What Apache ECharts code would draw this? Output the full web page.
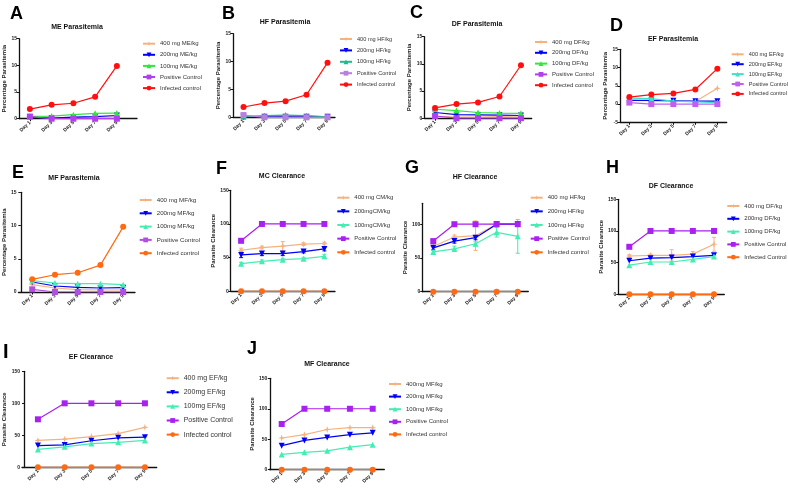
<!DOCTYPE html>
<html><head><meta charset="utf-8">
<script src="https://cdn.jsdelivr.net/npm/echarts@6/dist/echarts.min.js"></script>
<style>html,body{margin:0;padding:0;background:#fff}#c{width:788px;height:491px}</style>
</head><body><div id="c"></div>
<script>
// ---------- DATA ----------
const days = [1, 3, 5, 7, 9];
const dayLabels = ['Day 1', 'Day 3', 'Day 5', 'Day 7', 'Day 9'];
const parasitemiaTicks = [0, 5, 10, 15];
const parasitemiaTicksEF = [-5, 0, 5, 10, 15];
const clearanceTicks = [0, 50, 100, 150];
const clearanceTicksHF = [0, 50, 100];

// A  ME Parasitemia
const meNames = ['400 mg ME/kg', '200mg ME/kg', '100mg ME/kg', 'Positive Control', 'Infected control'];
const me400 = [0.3, 0.2, 0.2, 0.3, 0.3];
const me200 = [0.3, 0.1, 0.3, 0.4, 0.6];
const me100 = [0.45, 0.5, 0.75, 1.0, 1.05];
const mePos = [0.4, 0, 0, 0, 0];
const meInf = [1.8, 2.6, 2.9, 4.1, 9.9];
// B  HF Parasitemia
const hfNames = ['400 mg HF/kg', '200mg HF/kg', '100mg HF/kg', 'Positive Control', 'Infected control'];
const hf400 = [0.2, 0.2, 0.2, 0.2, 0.1];
const hf200 = [0.1, 0.1, 0.1, 0.1, 0.1];
const hf100 = [0.1, 0.3, 0.4, 0.3, 0.1];
const hfPos = [0.4, 0, 0, 0, 0];
const hfInf = [1.85, 2.55, 2.9, 4.05, 9.8];
// C  DF Parasitemia
const dfNames = ['400 mg DF/kg', '200mg DF/kg', '100mg DF/kg', 'Positive Control', 'Infected control'];
const df400 = [0.4, 0.2, 0.2, 0.3, 0.2];
const df200 = [1.05, 0.65, 0.6, 0.55, 0.5];
const df100 = [1.65, 1.4, 1.05, 0.95, 0.9];
const dfPos = [0.4, 0, 0, 0, 0];
const dfInf = [1.9, 2.6, 2.9, 4.0, 9.75];
// D  EF Parasitemia
const efNames = ['400 mg EF/kg', '200mg EF/kg', '100mg EF/kg', 'Positive Control', 'Infected control'];
const ef400 = [1.0, 0.9, 0.8, 0.7, 4.3];
const ef200 = [1.0, 1.0, 0.9, 0.8, 0.8];
const ef100 = [1.6, 1.5, 0.8, 0.6, 0.4];
const efPos = [0.4, 0, 0, 0, 0];
const efInf = [1.9, 2.6, 2.9, 4.0, 9.7];
// E  MF Parasitemia
const mfNames = ['400 mg MF/kg', '200mg MF/kg', '100mg MF/kg', 'Positive Control', 'Infected control'];
const mf400 = [1.1, 0.6, 0.35, 0.3, 0.3];
const mf200 = [1.5, 0.9, 0.7, 0.6, 0.65];
const mf100 = [1.7, 1.35, 1.25, 1.25, 1.1];
const mfPos = [0.4, 0, 0, 0, 0];
const mfInf = [1.9, 2.6, 2.9, 4.05, 9.8];
// F  MC Clearance
const mcNames = ['400 mg CM/kg', '200mgCM/kg', '100mgCM/kg', 'Positive Control', 'Infected control'];
const mc400 = [61, 65, 67, 70, 71];
const mc200 = [54, 56, 56, 59, 63];
const mc100 = [41, 44.5, 47, 48.5, 52];
const mcPos = [75, 100, 100, 100, 100];
const mcInf = [0, 0, 0, 0, 0];
const mc400Err = [3, 2, 7, 2, 2];
const mc200Err = [4, 3, 3, 2, 3];
const mc100Err = [2, 2, 2, 2, 3];
// G  HF Clearance
const hcNames = ['400 mg HF/kg', '200mg HF/kg', '100mg HF/kg', 'Positive Control', 'Infected control'];
const hc400 = [67, 81, 83, 100, 100];
const hc200 = [65, 75, 80, 100, 100];
const hc100 = [59, 63.5, 71, 88, 82];
const hcPos = [75, 100, 100, 100, 100];
const hcInf = [0, 0, 0, 0, 0];
const hc400Err = [2, 3, 22, 0, 0];
const hc200Err = [3, 3, 3, 0, 0];
const hc100Err = [2, 4, 3, 7, 25];
// H  DF Clearance
const dcNames = ['400 mg DF/kg', '200mg DF/kg', '100mg DF/kg', 'Positive Control', 'Infected Control'];
const dc400 = [60.5, 61.5, 61.5, 63.5, 79];
const dc200 = [53, 57, 58, 59.5, 61.5];
const dc100 = [46, 51, 51, 55, 59.5];
const dcPos = [75, 100, 100, 100, 100];
const dcInf = [0, 0, 0, 0, 0];
const dc400Err = [2, 2, 9, 4, 11];
// I  EF Clearance
const ecNames = ['400 mg EF/kg', '200mg EF/kg', '100mg EF/kg', 'Positive Control', 'Infected control'];
const ec400 = [42, 44, 48, 52.5, 62.5];
const ec200 = [34, 35, 41.5, 46, 47];
const ec100 = [28, 32, 37, 39, 42];
const ecPos = [75, 100, 100, 100, 100];
const ecInf = [0, 0, 0, 0, 0];
// J  MF Clearance
const jcNames = ['400mg MF/kg', '200mg MF/kg', '100mg MF/kg', 'Positive Control', 'Infected control'];
const jc400 = [52, 57.5, 66, 69, 69];
const jc200 = [39.5, 48, 53, 57.5, 60.5];
const jc100 = [25, 28.5, 31, 37, 41];
const jcPos = [75, 100, 100, 100, 100];
const jcInf = [0, 0, 0, 0, 0];

// ---------- STYLE ----------
const PEACH = '#F6B27E', BLUE = '#0000F5', RED = '#FF1010', ORANGE = '#FF6A12';
const GREEN = '#2EE83A', TEAL = '#1DBA8C', MINT = '#45EDB2', TURQ = '#3FE3C4';
const PURPLE = '#A821F0', LAV = '#B680DE', VIOLET = '#B040EE';
const SYM_PLUS = 'path://M5,0 L6.2,3.8 L10,5 L6.2,6.2 L5,10 L3.8,6.2 L0,5 L3.8,3.8 Z';
const SYM_DOWN = 'path://M0,0 L10,0 L5,9 Z';
const SYMS = [SYM_PLUS, SYM_DOWN, 'triangle', 'rect', 'circle'];
const FONT = 'Liberation Sans, Arial, sans-serif';

const panels = [
  { id: 'A', title: 'ME Parasitemia', yName: 'Percentage Parasitemia', names: meNames, vals: [me400, me200, me100, mePos, meInf],
    colors: [PEACH, BLUE, GREEN, VIOLET, RED], grid: [19, 38.7, 118, 80], x: [0, 10.85], y: [0, 15], ticks: parasitemiaTicks, nameGap: 12,
    leg: [159, 43.7, 11.1, 6], t: [77, 27], L: [10, 5, 18] },
  { id: 'B', title: 'HF Parasitemia', yName: 'Percentage Parasitemia', names: hfNames, vals: [hf400, hf200, hf100, hfPos, hfInf],
    colors: [PEACH, BLUE, TEAL, LAV, RED], grid: [233, 33.7, 102, 83.6], x: [0, 9.71], y: [0, 15], ticks: parasitemiaTicks, nameGap: 10,
    leg: [356, 39, 11.4, 5.6], t: [285, 22], L: [222, 5, 18] },
  { id: 'C', title: 'DF Parasitemia', yName: 'Percentage Parasitemia', names: dfNames, vals: [df400, df200, df100, dfPos, dfInf],
    colors: [PEACH, BLUE, GREEN, VIOLET, RED], grid: [424.3, 36.7, 107.4, 81.5], x: [0, 10.0], y: [0, 15], ticks: parasitemiaTicks, nameGap: 11,
    leg: [551, 42, 10.8, 6], t: [477, 24], L: [410, 4, 18] },
  { id: 'D', title: 'EF Parasitemia', yName: 'Percentage Parasitemia', names: efNames, vals: [ef400, ef200, ef100, efPos, efInf],
    colors: [PEACH, BLUE, TURQ, '#C060F0', RED], grid: [620, 49.3, 106.7, 73], x: [0.15, 9.85], y: [-5, 15], ticks: parasitemiaTicksEF, nameGap: 12,
    leg: [747.7, 54.3, 9.9, 5.6], t: [673, 39], L: [610, 17, 18] },
  { id: 'E', title: 'MF Parasitemia', yName: 'Percentage Parasitemia', names: mfNames, vals: [mf400, mf200, mf100, mfPos, mfInf],
    colors: [PEACH, BLUE, MINT, '#B050E0', ORANGE], grid: [14, 192.3, 121, 99.7], x: [-0.21, 10.04], y: [0, 15], ticks: parasitemiaTicks, nameGap: 8,
    leg: [155.7, 200, 13.3, 6.2], t: [74, 178], L: [12, 164, 18] },
  { id: 'F', title: 'MC Clearance', yName: 'Parasite Clearance', names: mcNames, vals: [mc400, mc200, mc100, mcPos, mcInf],
    errs: [mc400Err, mc200Err, mc100Err], colors: [PEACH, BLUE, MINT, PURPLE, ORANGE], grid: [230.7, 190.3, 104.3, 101], x: [0, 10.02], y: [0, 150], ticks: clearanceTicks, nameGap: 12.5,
    leg: [353.3, 197.7, 13.65, 6], t: [282, 176], L: [216, 160, 18] },
  { id: 'G', title: 'HF Clearance', yName: 'Parasite Clearance', names: hcNames, vals: [hc400, hc200, hc100, hcPos, hcInf],
    errs: [hc400Err, hc200Err, hc100Err], colors: [PEACH, BLUE, MINT, PURPLE, ORANGE], grid: [422.3, 203.3, 106, 88.4], x: [-0.04, 10.0], y: [0, 131], ticks: clearanceTicksHF, nameGap: 12,
    leg: [546.7, 197.7, 13.65, 6], t: [475, 177], L: [405, 159, 18] },
  { id: 'H', title: 'DF Clearance', yName: 'Parasite Clearance', names: dcNames, vals: [dc400, dc200, dc100, dcPos, dcInf],
    errs: [dc400Err, null, null], colors: [PEACH, BLUE, MINT, PURPLE, ORANGE], grid: [618.3, 199.3, 106, 95], x: [-0.04, 9.97], y: [0, 150], ticks: clearanceTicks, nameGap: 13,
    leg: [743.3, 206, 12.8, 6], t: [671, 186], L: [606, 159, 18] },
  { id: 'I', title: 'EF Clearance', yName: 'Parasite Clearance', names: ecNames, vals: [ec400, ec200, ec100, ecPos, ecInf],
    colors: [PEACH, BLUE, MINT, PURPLE, ORANGE], grid: [21.7, 371.3, 135, 96], x: [-0.19, 9.88], y: [0, 150], ticks: clearanceTicks, nameGap: 15,
    leg: [182.7, 377.7, 13.1, 7], t: [91, 357], L: [3, 342, 20] },
  { id: 'J', title: 'MF Clearance', yName: 'Parasite Clearance', names: jcNames, vals: [jc400, jc200, jc100, jcPos, jcInf],
    colors: [PEACH, BLUE, MINT, PURPLE, ORANGE], grid: [269.3, 378.3, 115, 91.4], x: [-0.09, 10.02], y: [0, 150], ticks: clearanceTicks, nameGap: 13,
    leg: [405, 384, 12.6, 6], t: [327, 364], L: [247, 340, 18] }
];

const grid = [], xAxis = [], yAxis = [], series = [], legend = [], graphic = [];
const ICON_W = 12, ICON_H = 6;

panels.forEach((p, i) => {
  grid.push({ left: p.grid[0], top: p.grid[1], width: p.grid[2], height: p.grid[3], containLabel: false });
  xAxis.push({
    type: 'value', gridIndex: i, min: p.x[0], max: p.x[1],
    axisLine: { onZero: false, lineStyle: { color: '#111', width: 1.3 } },
    axisTick: { customValues: days, length: 2.5, lineStyle: { color: '#111', width: 1 } },
    axisLabel: { customValues: days, formatter: v => dayLabels[days.indexOf(v)], rotate: 45, fontSize: 5, fontWeight: 'bold',
      fontFamily: FONT, color: '#222', margin: 3 },
    splitLine: { show: false }
  });
  yAxis.push({
    type: 'value', gridIndex: i, min: p.y[0], max: p.y[1],
    name: p.yName, nameLocation: 'middle', nameGap: p.nameGap,
    nameTextStyle: { fontSize: 6, fontWeight: 'bold', fontFamily: FONT, color: '#222' },
    axisLine: { show: true, lineStyle: { color: '#111', width: 1.3 } },
    axisTick: { show: true, customValues: p.ticks, length: 2.5, lineStyle: { color: '#111', width: 1 } },
    axisLabel: { customValues: p.ticks, fontSize: 5, fontWeight: 'bold', fontFamily: FONT, color: '#222', margin: 2 },
    splitLine: { show: false }
  });
  const legNames = [];
  p.names.forEach((nm, k) => {
    const full = p.id + '|' + nm;
    legNames.push(full);
    series.push({
      type: 'line', name: full, xAxisIndex: i, yAxisIndex: i,
      data: days.map((d, j) => [d, p.vals[k][j]]),
      symbol: SYMS[k], symbolSize: k === 0 ? 7 : 6,
      lineStyle: { width: 1.2, color: p.colors[k] }, itemStyle: { color: p.colors[k] },
      z: 2 + k, animation: false
    });
    if (p.errs && p.errs[k]) {
      const e = p.errs[k], v = p.vals[k], col = p.colors[k];
      series.push({
        type: 'custom', xAxisIndex: i, yAxisIndex: i, z: 1, animation: false, silent: true,
        data: days.map((d, j) => [d, v[j] - e[j], v[j] + e[j]]),
        renderItem: (params, api) => {
          const a = api.coord([api.value(0), api.value(1)]);
          const b = api.coord([api.value(0), api.value(2)]);
          const st = { stroke: col, lineWidth: 1 };
          return { type: 'group', children: [
            { type: 'line', shape: { x1: a[0], y1: a[1], x2: b[0], y2: b[1] }, style: st },
            { type: 'line', shape: { x1: a[0] - 2, y1: a[1], x2: a[0] + 2, y2: a[1] }, style: st },
            { type: 'line', shape: { x1: b[0] - 2, y1: b[1], x2: b[0] + 2, y2: b[1] }, style: st }
          ] };
        }
      });
    }
  });
  const fs = p.leg[3];
  legend.push({
    data: legNames, orient: 'vertical', left: p.leg[0] - 5 - ICON_W, top: p.leg[1] - ICON_H / 2,
    itemWidth: ICON_W, itemHeight: ICON_H, itemGap: p.leg[2] - ICON_H, padding: 0,
    formatter: n => n.split('|')[1],
    textStyle: { fontSize: fs, lineHeight: ICON_H, fontFamily: FONT, color: '#333' },
    selectedMode: false
  });
  graphic.push({ type: 'text', left: p.L[0], top: p.L[1], style: { text: p.id, fontSize: p.L[2], fontWeight: 'bold', fontFamily: FONT, fill: '#000' } });
  graphic.push({ type: 'text', x: p.t[0], y: p.t[1], style: { text: p.title, fontSize: 7, fontWeight: 'bold', fontFamily: FONT, fill: '#111',
    textAlign: 'center', textVerticalAlign: 'middle' } });
});

const chart = echarts.init(document.getElementById('c'), null, { renderer: 'canvas' });
chart.setOption({ backgroundColor: '#fff', animation: false, grid, xAxis, yAxis, series, legend, graphic });
</script></body></html>
